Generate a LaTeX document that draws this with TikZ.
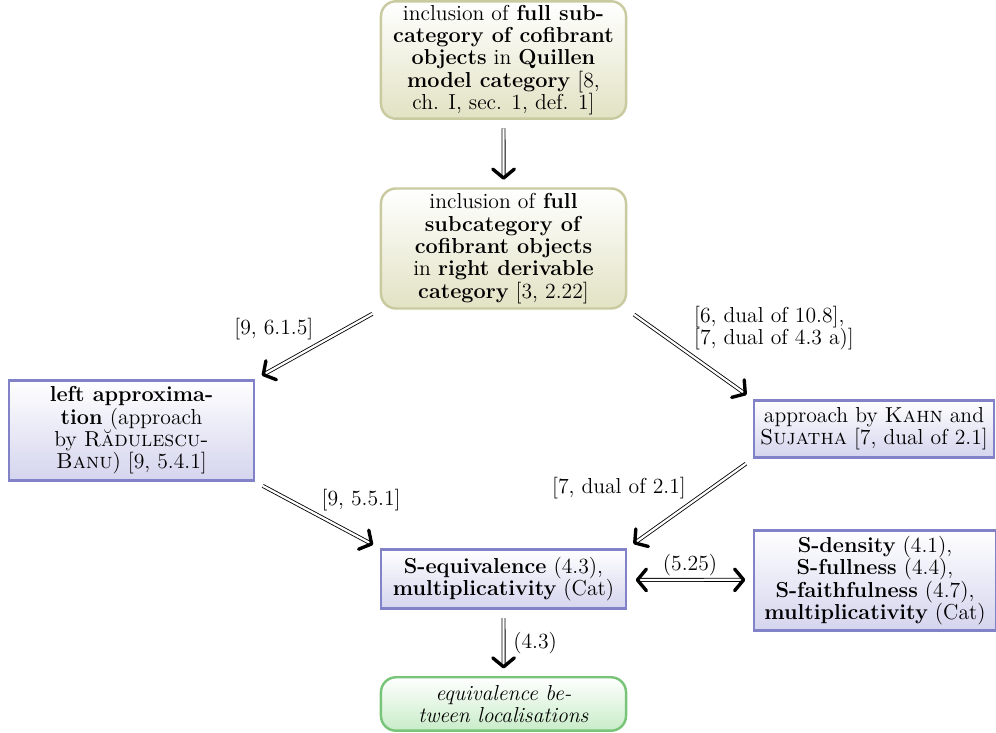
\documentclass[tikz,border=0pt]{standalone}
\usetikzlibrary{arrows.meta,shadings}
\definecolor{olivebd}{RGB}{202,202,160}
\definecolor{olivefl}{RGB}{226,226,196}
\definecolor{bluebd}{RGB}{130,130,200}
\definecolor{bluefl}{RGB}{212,212,238}
\definecolor{greenbd}{RGB}{120,196,120}
\definecolor{greenfl}{RGB}{200,236,200}
\tikzset{
  txt/.style={font=\fontsize{11.55}{11.9}\selectfont},
  box/.style={draw, line width=1.3pt, align=center, inner sep=2pt, txt, minimum width=130.7pt},
  olivebox/.style={box, draw=olivebd, top color=white, bottom color=olivefl, rounded corners=8pt},
  bluebox/.style={box, draw=bluebd, top color=white, bottom color=bluefl},
  greenbox/.style={box, draw=greenbd, top color=white, bottom color=greenfl, rounded corners=8pt},
  imp/.style={double, line width=0.45pt, double distance=1.2pt, shorten <=4.5pt, shorten >=4pt,
    >={Straight Barb[length=4.8pt, width=11.5pt, line width=1.8pt, line cap=round, line join=round]}, ->},
  impboth/.style={imp, <->},
  lbl/.style={inner sep=2pt, txt}
}
\begin{document}
\begin{tikzpicture}[x=0.5333pt, y=-0.5333pt]
\useasboundingbox (0,0) rectangle (996,733);
\node[olivebox, minimum height=62.5pt] (A) at (503.5,60) {inclusion of \textbf{full sub-}\\\textbf{category of cofibrant}\\\textbf{objects} in \textbf{Quillen}\\\textbf{model category} [8,\\ch. I, sec. 1, def. 1]};
\node[olivebox, minimum height=64pt] (B) at (503.5,248.5) {inclusion of \textbf{full}\\\textbf{subcategory of}\\\textbf{cofibrant objects}\\in \textbf{right derivable}\\\textbf{category} [3, 2.22]};
\node[bluebox, minimum height=53.5pt] (C) at (131.5,430.5) {\textbf{left approxima-}\\\textbf{tion} (approach\\by \textsc{Rădulescu-}\\\textsc{Banu}) [9, 5.4.1]};
\node[bluebox, minimum height=30.5pt, minimum width=128pt] (D) at (874,429) {approach by \textsc{Kahn} and\\\textsc{Sujatha} [7, dual of 2.1]};
\node[bluebox, minimum height=31.5pt] (E) at (503.5,579) {\textbf{S-equivalence} (4.3),\\\textbf{multiplicativity} (Cat)};
\node[bluebox, minimum height=53.5pt, minimum width=129pt] (F) at (875,580.5) {\textbf{S-density} (4.1),\\\textbf{S-fullness} (4.4),\\\textbf{S-faithfulness} (4.7),\\\textbf{multiplicativity} (Cat)};
\node[greenbox, minimum height=28.5pt] (G) at (503.5,704) {\textit{equivalence be-}\\\textit{tween localisations}};
\draw[imp] (A.south) -- ([xshift=0.05pt]B.north);
\draw[imp] (B.south west) -- node[lbl, above left] {[9, 6.1.5]} (C.north east);
\draw[imp] (B.south east) -- node[lbl, above right, align=left] {[6, dual of 10.8],\\{}[7, dual of 4.3 a)]} (D.north west);
\draw[imp] (C.south east) -- node[lbl, above right] {[9, 5.5.1]} (E.north west);
\draw[imp] (D.south west) -- node[lbl, above left] {[7, dual of 2.1]} (E.north east);
\draw[impboth] ([yshift=-0.5pt]E.east) -- node[lbl, above] {(5.25)} ([yshift=-0.45pt]E.east -| F.west);
\draw[imp] (E.south) -- node[lbl, right=3pt] {(4.3)} ([xshift=0.05pt]G.north);
\end{tikzpicture}
\end{document}
